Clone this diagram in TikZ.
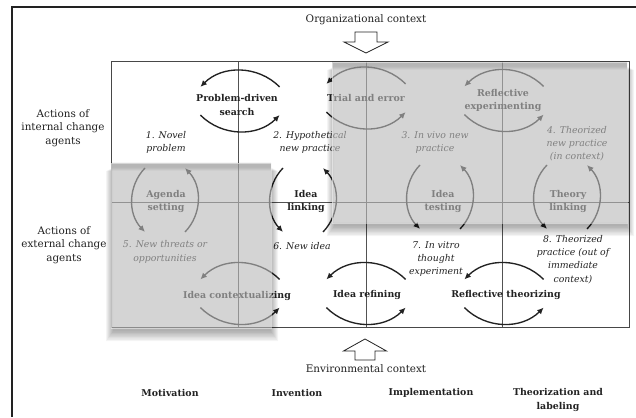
\documentclass[tikz,border=0pt]{standalone}
\usepackage{fontspec}
\setmainfont{DejaVu Serif}
\usetikzlibrary{arrows.meta}

\definecolor{ink}{HTML}{222222}

\tikzset{
  every node/.style={font=\fontsize{10.4}{13.6}\selectfont, text=ink, inner sep=0pt, align=center},
  proc/.style={font=\fontsize{9.4}{13.8}\selectfont\bfseries},
  stage/.style={font=\fontsize{9.3}{13.2}\selectfont\itshape},
  cyc/.style={draw=ink, line width=1.35pt, -{Latex[length=6.5pt,width=6pt]}},
  gridline/.style={draw=black!68, line width=0.8pt},
  frameline/.style={draw=ink, line width=1.1pt},
  blockarrow/.style={draw=ink, line width=0.8pt, fill=white, line join=miter},
  veil/.style={fill=black!27, fill opacity=0.62, draw=white, draw opacity=0.45, line width=0.7pt},
}

% two arcs above and below a centre, turning anticlockwise
\newcommand\cycleh[1]{%
  \draw[cyc] ([shift={(39.6,13.6)}]#1) arc[start angle=45,end angle=135,radius=56];
  \draw[cyc] ([shift={(-39.6,-14.6)}]#1) arc[start angle=225,end angle=315,radius=56];}
% two arcs left and right of a centre, turning anticlockwise
\newcommand\cyclev[1]{%
  \draw[cyc] ([shift={(-20,32)}]#1) arc[start angle=136,end angle=224,radius=46];
  \draw[cyc] ([shift={(20,-32)}]#1) arc[start angle=-44,end angle=44,radius=46];}
% soft shadow falling below a panel: left, bottom, right, top
\newcommand\dropshade[4]{%
  \foreach \k in {1,...,8}{
    \fill[black, opacity=0.045, even odd rule]
      ({#1+3-\k}, {#2-2-1.4*\k}) rectangle ({#3-1+\k}, {#4-4-0.5*\k})
      (#1,#2) rectangle (#3,#4);
  }}

\begin{document}
\begin{tikzpicture}[x=1pt,y=1pt]
\useasboundingbox (0,0) rectangle (636,417);
\fill[white] (0,0) rectangle (636,417);

% page frame
\draw[frameline] (12,0) -- (12,410) -- (636,410);

% grid of the matrix
\draw[gridline] (238,89) -- (238,355);
\draw[gridline] (366,89) -- (366,355);
\draw[gridline] (502,89) -- (502,355);
\draw[gridline] (111,215) -- (629,215);
\draw[draw=black!72, line width=1pt] (111,89) rectangle (629,355);

% contexts and their block arrows
\node (org) at (366,397) {Organizational context};
\draw[blockarrow] (355,385) -- (377,385) -- (377,375) -- (388,375) -- (366,364)
  -- (344,375) -- (355,375) -- cycle;
\draw[blockarrow] (355,57) -- (375,57) -- (375,66) -- (386.5,66) -- (365,78)
  -- (343.5,66) -- (355,66) -- cycle;
\node (env) at (366,48) {Environmental context};

% row headings
\node (int) at (63,289) {Actions of\\internal change\\agents};
\node (ext) at (64,172) {Actions of\\external change\\agents};

% column headings
\node[proc] (mot) at (170,24) {Motivation};
\node[proc] (inv) at (297,24) {Invention};
\node[proc] (imp) at (431,24) {Implementation};
\node[proc] (thz) at (558,17) {Theorization and\\labeling};

% process labels
\node[proc] (pds) at (237,312) {Problem-driven\\search};
\node[proc] (tae) at (366,319) {Trial and error};
\node[proc] (rex) at (503,316.5) {Reflective\\experimenting};
\node[proc] (ags) at (166,215.5) {Agenda\\setting};
\node[proc] (ilk) at (306,215.5) {Idea\\linking};
\node[proc] (its) at (443,215.5) {Idea\\testing};
\node[proc] (thl) at (568,215.5) {Theory\\linking};
\node[proc] (ictx) at (237,121) {Idea contextualizing};
\node[proc] (irf) at (367,122) {Idea refining};
\node[proc] (rth) at (506,122) {Reflective theorizing};

% stages
\node[stage] (s1) at (166,274.5) {1. Novel\\problem};
\node[stage] (s2) at (310,274.5) {2. Hypothetical\\new practice};
\node[stage] (s3) at (435,274.5) {3. In vivo new\\practice};
\node[stage] (s4) at (577,273.5) {4. Theorized\\new practice\\(in context)};
\node[stage] (s5) at (165,165) {5. New threats or\\opportunities};
\node[stage] (s6) at (302,171) {6. New idea};
\node[stage] (s7) at (436,158) {7. In vitro\\thought\\experiment};
\node[stage] (s8) at (573,157.5) {8. Theorized\\practice (out of\\immediate\\context)};

% cycle centres
\coordinate (c1) at (240,316.5);
\coordinate (c2) at (366,319.5);
\coordinate (c3) at (504,317);
\coordinate (c4) at (240,124);
\coordinate (c5) at (366,124);
\coordinate (c6) at (504,124);
\coordinate (v1) at (165,217);
\coordinate (v2) at (303,217);
\coordinate (v3) at (440,220);
\coordinate (v4) at (567,220);

\cycleh{c1}\cycleh{c2}\cycleh{c3}
\cycleh{c4}\cycleh{c5}\cycleh{c6}
\cyclev{v1}\cyclev{v2}\cyclev{v3}\cyclev{v4}

% shaded panels with their shadows
\dropshade{332}{194}{627}{355}
\dropshade{111}{89}{271}{254}
\path[veil] (332,194) rectangle (627,355);
\path[veil] (111,89) rectangle (271,254);
\end{tikzpicture}
\end{document}
